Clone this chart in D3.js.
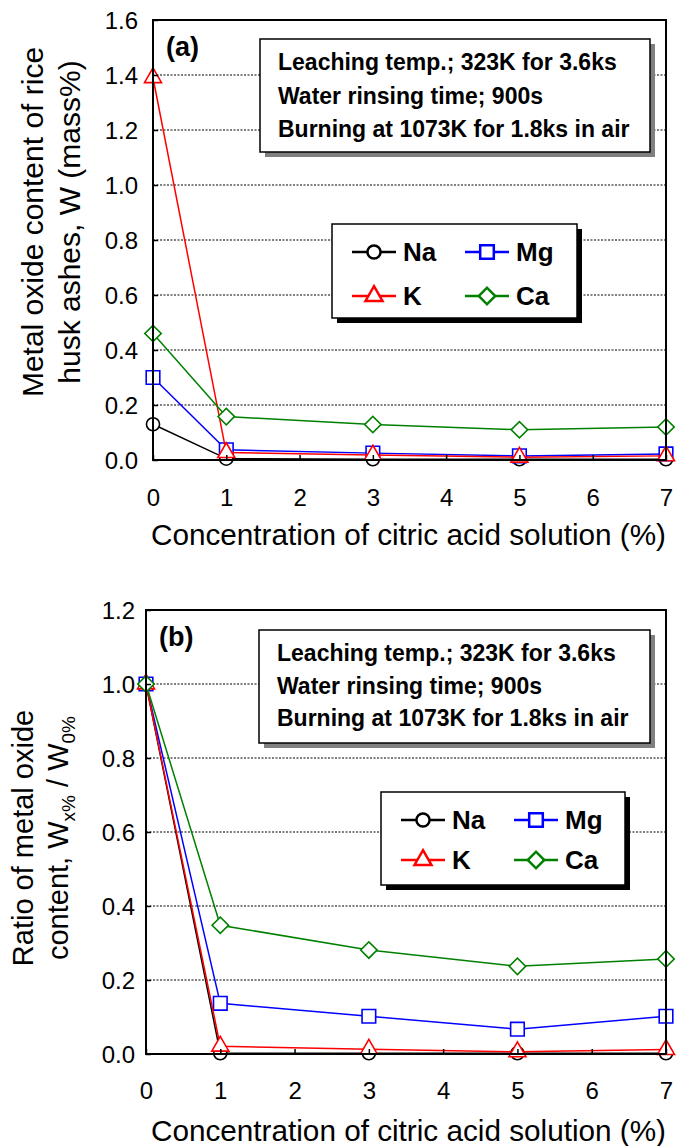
<!DOCTYPE html>
<html>
<head>
<meta charset="utf-8">
<script src="https://cdnjs.cloudflare.com/ajax/libs/d3/7.8.5/d3.min.js"></script>
<style>
  body { margin: 0; background: #fff; }
  svg text { font-family: "Liberation Sans", Arial, sans-serif; fill: #000; }
</style>
</head>
<body>
<svg id="chart" width="680" height="1146"></svg>
<script>
// concentrations of citric acid where the ashes were measured (%)
var concentration = [ 0 , 1 , 3 , 5 , 7 ];
var elements = [ 'Na' , 'Mg' , 'K' , 'Ca' ];

// (a) metal oxide content of rice husk ashes, W (mass%)
var contentNa = [ 0.13 , 0.005 , 0.003 , 0.003 , 0.003 ];
var contentMg = [ 0.30 , 0.037 , 0.025 , 0.015 , 0.022 ];
var contentK  = [ 1.39 , 0.027 , 0.018 , 0.010 , 0.015 ];
var contentCa = [ 0.46 , 0.158 , 0.129 , 0.110 , 0.120 ];

// (b) ratio of metal oxide content W x% / W 0%
var ratioNa = [ 1.0 , 0.002 , 0.002 , 0.002 , 0.002 ];
var ratioMg = [ 1.0 , 0.137 , 0.102 , 0.067 , 0.102 ];
var ratioK  = [ 1.0 , 0.021 , 0.013 , 0.006 , 0.012 ];
var ratioCa = [ 1.0 , 0.348 , 0.281 , 0.237 , 0.257 ];

var xTicks = [ 0 , 1 , 2 , 3 , 4 , 5 , 6 , 7 ];
var yTicksA = [ 0 , 0.2 , 0.4 , 0.6 , 0.8 , 1.0 , 1.2 , 1.4 , 1.6 ];
var yTicksB = [ 0 , 0.2 , 0.4 , 0.6 , 0.8 , 1.0 , 1.2 ];
var infoLines = [ 'Leaching temp.; 323K for 3.6ks' , 'Water rinsing time; 900s' , 'Burning at 1073K for 1.8ks in air' ];
var xTitle = 'Concentration of citric acid solution (%)';

var colors = { Na: '#000000' , Mg: '#0000ff' , K: '#ff0000' , Ca: '#008000' };

var svg = d3.select( '#chart' );

// one marker per element, same look in plot and legend
function addMarker( sel , el , sw ) {
    var sym = { Na: d3.symbolCircle , Mg: d3.symbolSquare , K: d3.symbolTriangle , Ca: d3.symbolSquare }[ el ];
    var size = { Na: 135 , Mg: 185 , K: 125 , Ca: 135 }[ el ];
    return sel.append( 'path' )
        .attr( 'd' , d3.symbol().type( sym ).size( size ) )
        .attr( 'fill' , '#fff' )
        .attr( 'stroke' , colors[ el ] )
        .attr( 'stroke-width' , sw );
}

function drawPanel( p ) {
    var x = d3.scaleLinear().domain( [ 0 , 7 ] ).range( [ p.left , p.right ] );
    var y = d3.scaleLinear().domain( [ 0 , p.yMax ] ).range( [ p.bottom , p.top ] );
    var g = svg.append( 'g' );

    // dotted grid lines
    g.selectAll( '.grid' )
        .data( p.yTicks.filter( function( d ){ return d > 0 && d < p.yMax - 1e-9; } ) )
        .enter().append( 'line' )
            .attr( 'x1' , p.left ).attr( 'x2' , p.right )
            .attr( 'y1' , function( d ){ return y( d ); } )
            .attr( 'y2' , function( d ){ return y( d ); } )
            .attr( 'stroke' , '#000' )
            .attr( 'stroke-width' , 1.2 )
            .attr( 'stroke-dasharray' , '2,1.5' );

    // conditions box with grey shadow
    var ib = p.info;
    g.append( 'rect' ).attr( 'x' , ib.x + 5 ).attr( 'y' , ib.y + 5 ).attr( 'width' , ib.w ).attr( 'height' , ib.h ).attr( 'fill' , '#808080' );
    g.append( 'rect' ).attr( 'x' , ib.x ).attr( 'y' , ib.y ).attr( 'width' , ib.w ).attr( 'height' , ib.h )
        .attr( 'fill' , '#fff' ).attr( 'stroke' , '#000' ).attr( 'stroke-width' , 1.5 );
    g.selectAll( '.info' ).data( infoLines ).enter().append( 'text' )
        .attr( 'x' , ib.x + 18 )
        .attr( 'y' , function( d , i ){ return ib.base[ i ]; } )
        .attr( 'font-size' , 23 ).attr( 'font-weight' , 'bold' )
        .text( function( d ){ return d; } );

    // legend box with black shadow
    var lb = p.legend;
    g.append( 'rect' ).attr( 'x' , lb.x + 5 ).attr( 'y' , lb.y + 5 ).attr( 'width' , lb.w ).attr( 'height' , lb.h ).attr( 'fill' , '#000' );
    g.append( 'rect' ).attr( 'x' , lb.x ).attr( 'y' , lb.y ).attr( 'width' , lb.w ).attr( 'height' , lb.h )
        .attr( 'fill' , '#fff' ).attr( 'stroke' , '#000' ).attr( 'stroke-width' , 1.5 );
    var items = g.selectAll( '.leg' ).data( elements ).enter().append( 'g' )
        .attr( 'transform' , function( d , i ){
            return 'translate(' + ( lb.x + ( i % 2 ) * 113 ) + ',' + ( lb.y + lb.rows[ Math.floor( i / 2 ) ] ) + ')';
        });
    items.append( 'line' ).attr( 'x1' , 20 ).attr( 'x2' , 64 ).attr( 'y1' , 0 ).attr( 'y2' , 0 )
        .attr( 'stroke' , function( d ){ return colors[ d ]; } ).attr( 'stroke-width' , 2.5 );
    items.each( function( d ){
        addMarker( d3.select( this ).append( 'g' ).attr( 'transform' , 'translate(42,0)' + ( d === 'Ca' ? ' rotate(45)' : '' ) ) , d , 2.5 );
    });
    items.append( 'text' ).attr( 'x' , 71 ).attr( 'y' , 9 )
        .attr( 'font-size' , 26 ).attr( 'font-weight' , 'bold' )
        .text( function( d ){ return d; } );

    // series
    var line = d3.line()
        .x( function( d , i ){ return x( concentration[ i ] ); } )
        .y( function( d ){ return y( d ); } );
    p.series.forEach( function( s , k ){
        var el = elements[ k ];
        g.append( 'path' ).datum( s ).attr( 'd' , line )
            .attr( 'fill' , 'none' ).attr( 'stroke' , colors[ el ] ).attr( 'stroke-width' , 1.5 );
        g.selectAll( '.m' + el ).data( s ).enter().append( 'g' )
            .attr( 'transform' , function( d , i ){
                return 'translate(' + x( concentration[ i ] ) + ',' + y( d ) + ')' + ( el === 'Ca' ? ' rotate(45)' : '' );
            })
            .each( function(){ addMarker( d3.select( this ) , el , 1.6 ); } );
    });

    // axes: inward ticks, frame drawn separately
    var xa = g.append( 'g' ).attr( 'transform' , 'translate(0,' + p.bottom + ')' )
        .call( d3.axisBottom( x ).tickValues( xTicks ).tickSize( -5 ).tickFormat( d3.format( 'd' ) ) );
    xa.select( '.domain' ).remove();
    xa.selectAll( 'line' ).attr( 'stroke-width' , 1.5 );
    xa.selectAll( 'text' ).attr( 'y' , p.xTickBase - p.bottom ).attr( 'dy' , 0 )
        .attr( 'font-size' , 24 ).attr( 'font-family' , null );

    var ya = g.append( 'g' ).attr( 'transform' , 'translate(' + p.left + ',0)' )
        .call( d3.axisLeft( y ).tickValues( p.yTicks ).tickSize( -5 ).tickFormat( d3.format( '.1f' ) ) );
    ya.select( '.domain' ).remove();
    ya.selectAll( 'line' ).attr( 'stroke-width' , 1.5 );
    ya.selectAll( 'text' ).attr( 'x' , -p.yTickPad ).attr( 'dy' , '0.36em' )
        .attr( 'font-size' , 24 ).attr( 'font-family' , null );

    g.append( 'rect' ).attr( 'x' , p.left ).attr( 'y' , p.top )
        .attr( 'width' , p.right - p.left ).attr( 'height' , p.bottom - p.top )
        .attr( 'fill' , 'none' ).attr( 'stroke' , '#000' ).attr( 'stroke-width' , 2 );

    // panel tag
    g.append( 'text' ).attr( 'x' , p.tag.x ).attr( 'y' , p.tag.y )
        .attr( 'font-size' , 27 ).attr( 'font-weight' , 'bold' ).text( p.tag.t );

    // x title
    g.append( 'text' ).attr( 'x' , p.xTitle.x1 ).attr( 'y' , p.xTitle.y )
        .attr( 'font-size' , 29 )
        .attr( 'textLength' , p.xTitle.x2 - p.xTitle.x1 ).attr( 'lengthAdjust' , 'spacingAndGlyphs' )
        .text( xTitle );

    return g;
}

var gA = drawPanel({
    left: 153 , right: 666 , top: 20 , bottom: 460 , yMax: 1.6 , yTicks: yTicksA ,
    xTickBase: 506 , yTickPad: 15 ,
    info: { x: 260 , y: 39 , w: 390 , h: 113 , base: [ 70 , 104 , 137 ] } ,
    legend: { x: 332 , y: 224 , w: 245 , h: 94 , rows: [ 28 , 72 ] } ,
    series: [ contentNa , contentMg , contentK , contentCa ] ,
    tag: { x: 166 , y: 56 , t: '(a)' } ,
    xTitle: { x1: 151 , x2: 666 , y: 545 }
});

var gB = drawPanel({
    left: 146 , right: 666 , top: 610 , bottom: 1054 , yMax: 1.2 , yTicks: yTicksB ,
    xTickBase: 1099 , yTickPad: 11 ,
    info: { x: 259 , y: 630 , w: 391 , h: 113 , base: [ 661 , 694 , 726 ] } ,
    legend: { x: 381 , y: 792 , w: 244 , h: 93 , rows: [ 28 , 68 ] } ,
    series: [ ratioNa , ratioMg , ratioK , ratioCa ] ,
    tag: { x: 159 , y: 646 , t: '(b)' } ,
    xTitle: { x1: 151 , x2: 666 , y: 1141 }
});

// y titles
gA.append( 'text' ).attr( 'transform' , 'translate(43,222) rotate(-90)' )
    .attr( 'text-anchor' , 'middle' ).attr( 'font-size' , 30 )
    .text( 'Metal oxide content of rice' );
gA.append( 'text' ).attr( 'transform' , 'translate(80,222) rotate(-90)' )
    .attr( 'text-anchor' , 'middle' ).attr( 'font-size' , 30 )
    .text( 'husk ashes, W (mass%)' );

gB.append( 'text' ).attr( 'transform' , 'translate(33,838) rotate(-90)' )
    .attr( 'text-anchor' , 'middle' ).attr( 'font-size' , 29 )
    .text( 'Ratio of metal oxide' );
var t2 = gB.append( 'text' ).attr( 'transform' , 'translate(68,838) rotate(-90)' )
    .attr( 'text-anchor' , 'middle' ).attr( 'font-size' , 29 );
t2.append( 'tspan' ).text( 'content, W' );
t2.append( 'tspan' ).attr( 'font-size' , 19 ).attr( 'dy' , 7 ).text( 'x%' );
t2.append( 'tspan' ).attr( 'dy' , -7 ).text( ' / W' );
t2.append( 'tspan' ).attr( 'font-size' , 19 ).attr( 'dy' , 7 ).text( '0%' );
</script>
</body>
</html>
